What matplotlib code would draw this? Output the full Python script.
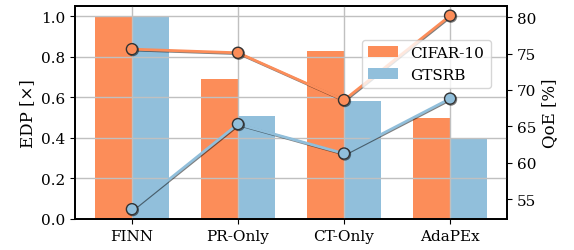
import matplotlib
matplotlib.use('Agg')
import matplotlib.pyplot as plt
import matplotlib.patheffects as pe
import numpy as np

plt.rcParams['font.family'] = 'DejaVu Serif'
plt.rcParams['font.size'] = 11
plt.rcParams['axes.linewidth'] = 1.3

methods = ['FINN', 'PR-Only', 'CT-Only', 'AdaPEx']
edp_cifar = [1.0, 0.69, 0.826, 0.50]
edp_gtsrb = [1.0, 0.507, 0.58, 0.394]
qoe_cifar = [75.6, 75.1, 68.6, 80.2]
qoe_gtsrb = [53.6, 65.3, 61.25, 68.8]

c_orange = '#fc8d59'
c_blue = '#91bfdb'

x = np.arange(len(methods))
w = 0.35

fig, ax1 = plt.subplots(figsize=(5.74, 2.51), dpi=100)
b1 = ax1.bar(x - w / 2, edp_cifar, w, color=c_orange, label='CIFAR-10')
b2 = ax1.bar(x + w / 2, edp_gtsrb, w, color=c_blue, label='GTSRB')
ax1.set_axisbelow(False)
ax1.grid(True, color='#c0c0c0', linewidth=1)
ax1.set_ylabel('EDP [×]', fontsize=12)
ax1.set_xticks(x)
ax1.set_xticklabels(methods)
ax1.set_ylim(0, 1.05)

ax2 = ax1.twinx()
shadow = [pe.SimpleLineShadow(offset=(0.6, -0.6), shadow_color='k', alpha=0.5), pe.Normal()]
ax2.plot(x, qoe_cifar, '-o', color=c_orange, lw=2, ms=8, mec='#333333', mew=1,
         path_effects=shadow)
ax2.plot(x, qoe_gtsrb, '-o', color=c_blue, lw=2, ms=8, mec='#333333', mew=1,
         path_effects=shadow)
ax2.set_ylabel('QoE [%]', fontsize=12)

ax2.legend([b1, b2], ['CIFAR-10', 'GTSRB'], loc='upper right',
           bbox_to_anchor=(0.98, 0.878), fontsize=11, labelspacing=0.55)

fig.subplots_adjust(left=0.131, right=0.883, top=0.972, bottom=0.124)
fig.savefig('out.png')
